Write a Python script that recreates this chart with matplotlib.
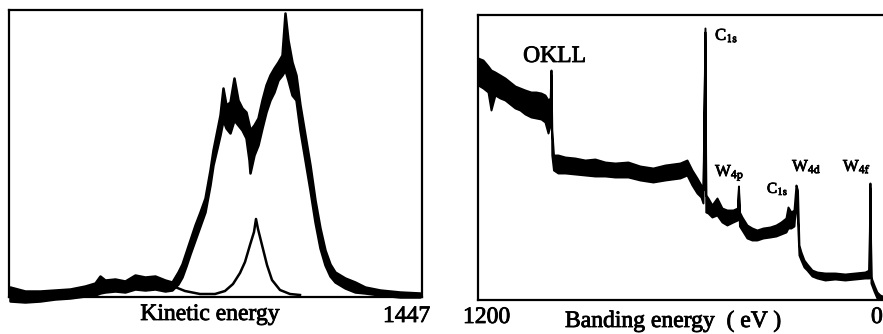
import matplotlib
matplotlib.use("Agg")
import matplotlib.pyplot as plt
import matplotlib.patheffects as pe

plt.rcParams['font.family'] = ['Liberation Serif', 'DejaVu Serif']
plt.rcParams['mathtext.fontset'] = 'stix'

# ---------------- Left panel: Auger peak (kinetic energy) ----------------
ke = [1405.8, 1407.3, 1408.8, 1410.3, 1411.8, 1413.3, 1414.3, 1414.8, 1415.3, 1416.3,
      1417.3, 1418.3, 1419.3, 1420.3, 1421.3, 1422.0, 1422.6, 1423.0, 1423.4, 1423.8,
      1424.3, 1424.8, 1425.3, 1425.8, 1426.1, 1426.5, 1426.8, 1427.1, 1427.4, 1427.8,
      1428.2, 1428.6, 1429.0, 1429.4, 1429.7, 1429.8, 1430.2, 1430.6, 1431.0, 1431.4,
      1431.8, 1432.2, 1432.6, 1433.0, 1433.3, 1433.6, 1434.0, 1434.4, 1434.8, 1435.3,
      1435.8, 1436.3, 1436.8, 1437.3, 1437.8, 1438.3, 1439.3, 1440.3, 1441.3, 1442.8,
      1444.8, 1446.8]
ke_hi = [10, 6, 6, 7, 8, 11, 14, 21, 17, 18,
         16, 22, 20, 21, 17, 15, 25, 33, 45, 57,
         72, 85, 99, 127, 147, 167, 182, 209, 192, 195,
         219, 197, 189, 185, 172, 167, 172, 179, 197, 212,
         222, 229, 235, 242, 284, 257, 235, 222, 192, 162,
         132, 97, 69, 47, 33, 25, 19, 15, 10, 7,
         5, 4]
ke_lo = [-4, -5, -4, -2, -1, 1, 2, 4, 5, 6,
         5, 8, 7, 8, 6, 7, 13, 20, 31, 43,
         57, 71, 85, 112, 132, 149, 162, 177, 169, 164,
         177, 172, 167, 159, 137, 124, 142, 152, 169, 185,
         197, 205, 217, 222, 227, 217, 202, 197, 167, 137,
         107, 75, 49, 32, 21, 15, 9, 5, 4, 2,
         0, 0]
comp_ke = [1421.5, 1422.3, 1423.3, 1424.8, 1426.3, 1427.3, 1428.1, 1428.8, 1429.3,
           1429.8, 1430.2, 1430.4, 1430.6, 1431.0, 1431.5, 1432.0, 1432.8, 1433.8, 1434.8]
comp_int = [14, 10, 6, 3, 3, 6, 13, 24, 35,
            52, 65, 78, 68, 52, 32, 17, 7, 3, 2]

# ---------------- Right panel: survey spectrum (binding energy) ----------------
be = [1200.0, 1185.3, 1170.5, 1161.7, 1149.9, 1135.1, 1120.4, 1105.7, 1090.9, 1076.2,
      1061.4, 1043.8, 1029.0, 1014.3, 1002.5, 993.6, 987.2, 984.8, 982.4, 977.4,
      964.2, 943.5, 914.0, 884.6, 855.1, 825.6, 796.1, 757.8, 722.4, 684.1,
      648.7, 604.5, 583.9, 569.1, 554.4, 542.6, 536.7, 530.8, 528.4, 521.9,
      510.2, 495.4, 480.7, 466.0, 448.3, 435.0, 432.1, 429.1, 421.7, 407.0,
      392.2, 377.5, 359.8, 339.2, 321.5, 306.8, 292.0, 286.1, 277.3, 268.4,
      262.5, 258.1, 253.7, 247.8, 238.9, 230.1, 215.4, 200.6, 177.0, 147.6,
      118.1, 88.6, 59.1, 47.3, 44.4, 41.4, 32.6, 23.8, 14.9, 0.0]
be_hi = [242, 240, 234, 230, 228, 225, 222, 218, 214, 212,
         210, 208, 208, 207, 205, 200, 202, 230, 170, 145,
         145, 143, 142, 140, 141, 138, 137, 138, 134, 132,
         135, 137, 140, 130, 122, 115, 110, 272, 105, 102,
         95, 102, 92, 90, 90, 92, 114, 88, 83, 75,
         72, 70, 72, 73, 75, 78, 82, 93, 88, 90,
         115, 110, 55, 48, 40, 36, 30, 28, 27, 27,
         26, 27, 28, 30, 117, 23, 15, 8, 5, 3]
be_lo = [215, 212, 208, 190, 205, 202, 200, 196, 192, 190,
         186, 183, 182, 181, 178, 167, 175, 225, 145, 130,
         127, 127, 126, 125, 124, 124, 123, 123, 120, 118,
         120, 122, 125, 115, 107, 103, 97, 268, 88, 87,
         83, 85, 78, 75, 78, 80, 110, 74, 70, 62,
         60, 60, 62, 63, 64, 66, 68, 72, 72, 74,
         100, 80, 45, 40, 33, 30, 24, 22, 20, 21,
         20, 21, 22, 22, 112, 17, 9, 2, 0, 0]

peak_labels = ['OKLL', r'C$_{\mathrm{1s}}$', r'W$_{\mathrm{4p}}$', r'C$_{\mathrm{1s}}$',
               r'W$_{\mathrm{4d}}$', r'W$_{\mathrm{4f}}$']
peak_label_be = [1067, 501, 501, 348, 274, 124]
peak_label_int = [238, 260, 124, 107, 129, 129]
peak_label_size = [17, 12, 12, 11, 12, 12]

# ---------------- Figure ----------------
W, H = 883, 334
fig = plt.figure(figsize=(W / 100, H / 100), dpi=100)
bold = [pe.withStroke(linewidth=0.6, foreground='black')]

def px_axes(x0, y0, x1, y1):
    return fig.add_axes([x0 / W, 1 - y1 / H, (x1 - x0) / W, (y1 - y0) / H])

ax1 = px_axes(9, 10, 422, 297)
ax1.fill_between(ke, ke_lo, ke_hi, facecolor='black', edgecolor='black', lw=1.8, clip_on=False)
ax1.plot(comp_ke, comp_int, color='black', lw=1.8)
ax1.set_xlim(1405.7, 1447.0)
ax1.set_ylim(0, 287)

ax2 = px_axes(478, 15, 885, 300)
ax2.fill_between(be, be_lo, be_hi, facecolor='black', edgecolor='black', lw=1.4)
ax2.set_xlim(1200, 0)
ax2.set_ylim(0, 285)
for lab, x, y, s in zip(peak_labels, peak_label_be, peak_label_int, peak_label_size):
    ax2.text(x, y, lab, fontsize=s, ha='left', va='baseline', color='black', path_effects=bold)

for ax in (ax1, ax2):
    ax.set_xticks([])
    ax.set_yticks([])
    for sp in ax.spines.values():
        sp.set_linewidth(1.6)
        sp.set_color('black')

def ftext(x, y, s, **kw):
    fig.text(x / W, 1 - y / H, s, va='baseline', fontsize=17, color='black',
             path_effects=bold, **kw)

ftext(210, 320, 'Kinetic energy', ha='center')
ftext(383, 322, '1447', ha='left')
ftext(463, 323, '1200', ha='left')
ftext(565, 327, 'Banding energy  ( eV )', ha='left')
ftext(871, 323, '0', ha='left')

fig.savefig('out.png', dpi=100)
